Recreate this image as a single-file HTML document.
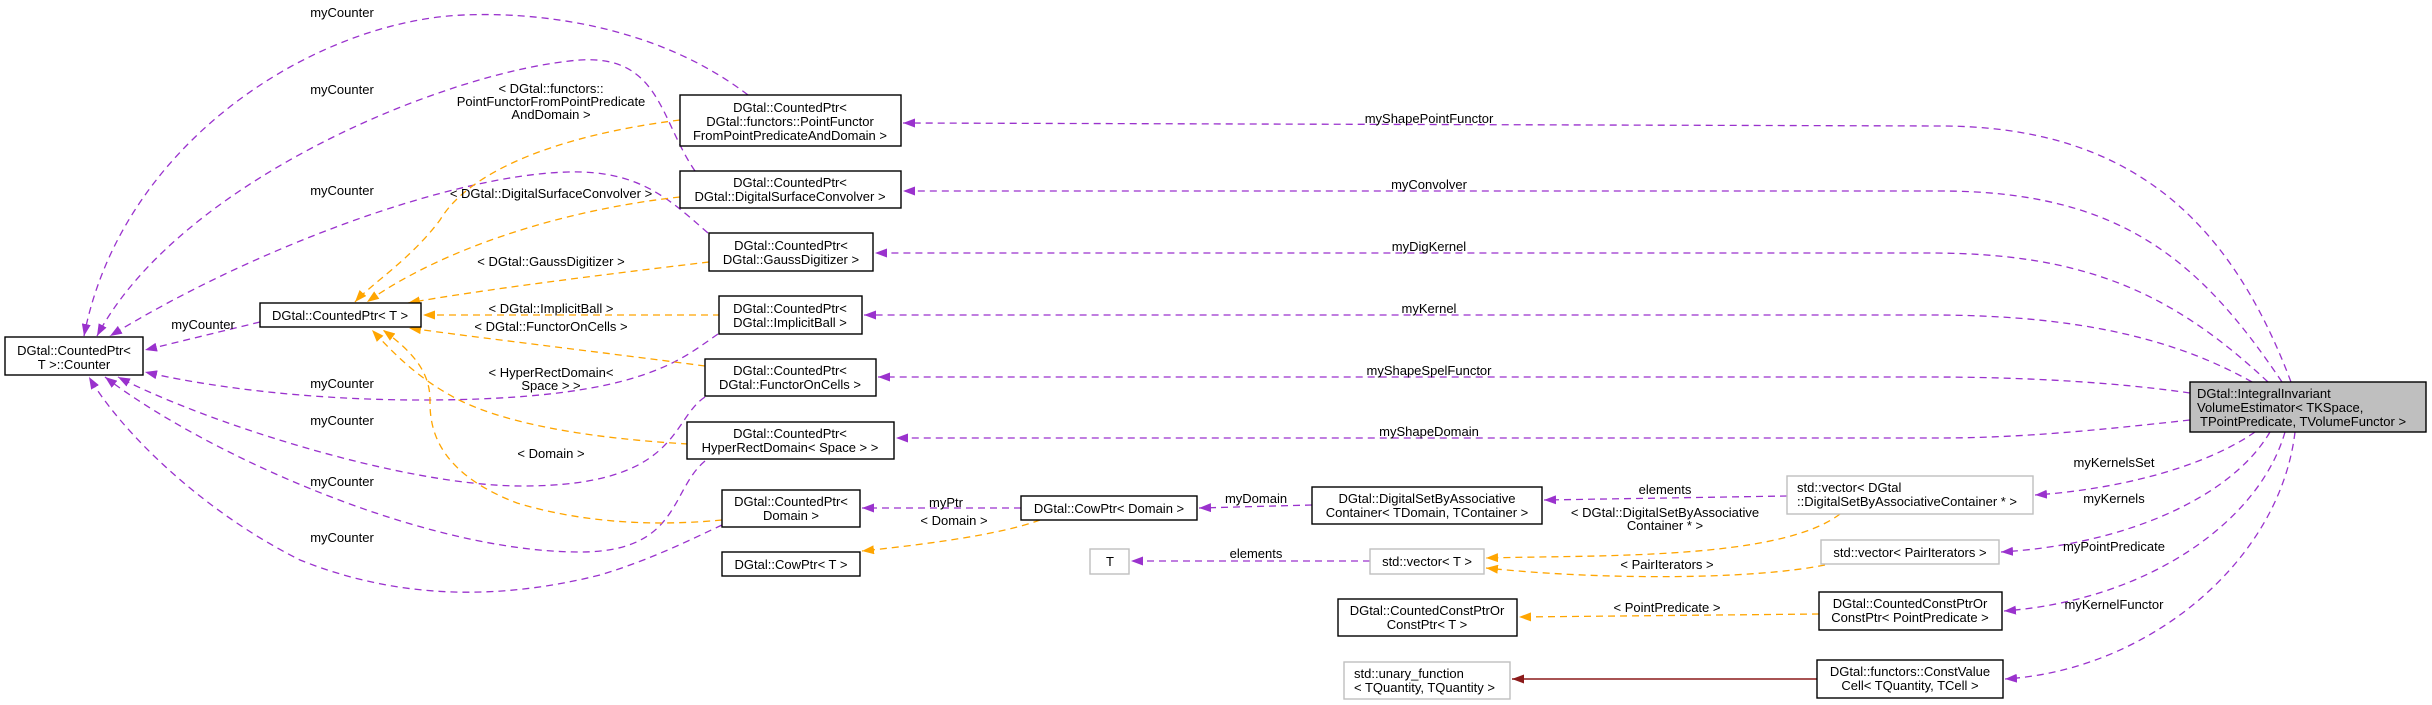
<!DOCTYPE html>
<html><head><meta charset="utf-8"><style>
html,body{margin:0;padding:0;background:#fff;}
svg{display:block;}
text{font-family:"Liberation Sans",Arial,sans-serif;font-size:13px;fill:#000;}
.c{text-anchor:middle;}
.p{fill:none;stroke:#9a32cd;stroke-width:1.3;stroke-dasharray:7,5;}
.o{fill:none;stroke:#ffa500;stroke-width:1.3;stroke-dasharray:7,5;}
.r{fill:none;stroke:#8b1a1a;stroke-width:1.5;}
.n{fill:#fff;stroke:#000;stroke-width:1.4;}
.g{fill:#fff;stroke:#bfbfbf;stroke-width:1.4;}
</style></head><body>
<svg width="2432" height="705" viewBox="0 0 2432 705" xmlns="http://www.w3.org/2000/svg">
<defs>
<marker id="mp" markerUnits="userSpaceOnUse" markerWidth="12" markerHeight="9" refX="12" refY="4.5" orient="auto"><path d="M0,0 L12,4.5 L0,9 z" fill="#9a32cd"/></marker>
<marker id="mo" markerUnits="userSpaceOnUse" markerWidth="12" markerHeight="9" refX="12" refY="4.5" orient="auto"><path d="M0,0 L12,4.5 L0,9 z" fill="#ffa500"/></marker>
<marker id="mr" markerUnits="userSpaceOnUse" markerWidth="12" markerHeight="9" refX="12" refY="4.5" orient="auto"><path d="M0,0 L12,4.5 L0,9 z" fill="#8b1a1a"/></marker>
</defs>

<!-- myCounter edges -->
<path class="p" marker-end="url(#mp)" d="M748,95 C650,20 520,10 448,16 C300,30 120,150 84,336"/>
<path class="p" marker-end="url(#mp)" d="M695,171 C660,120 660,55 580,60 C450,70 180,180 97,336"/>
<path class="p" marker-end="url(#mp)" d="M708,233 C670,200 640,170 568,172 C450,175 250,250 110,336"/>
<path class="p" marker-end="url(#mp)" d="M718,334 C680,360 640,400 422,400 C300,400 200,385 145,372"/>
<path class="p" marker-end="url(#mp)" d="M705,397 C670,420 680,486 522,486 C400,486 200,420 118,377"/>
<path class="p" marker-end="url(#mp)" d="M705,461 C670,490 680,552 580,552 C420,552 200,450 105,377"/>
<path class="p" marker-end="url(#mp)" d="M722,525 C690,540 650,560 600,575 C500,600 400,600 300,560 C200,510 120,430 89,377"/>
<path class="p" marker-end="url(#mp)" d="M260,322 L145,350"/>

<!-- orange edges to CountedPtr<T> -->
<path class="o" marker-end="url(#mo)" d="M680,120 C560,135 470,170 440,220 C410,260 370,285 355,302"/>
<path class="o" marker-end="url(#mo)" d="M680,197 C560,210 440,250 367,302"/>
<path class="o" marker-end="url(#mo)" d="M709,262 C600,275 480,290 408,303"/>
<path class="o" marker-end="url(#mo)" d="M720,315 L423,315"/>
<path class="o" marker-end="url(#mo)" d="M705,366 C600,352 480,338 409,328"/>
<path class="o" marker-end="url(#mo)" d="M688,444 C620,440 520,430 459,400 C420,380 395,355 372,330"/>
<path class="o" marker-end="url(#mo)" d="M722,520 C680,524 600,528 517,503 C430,470 430,420 430,400 C430,370 410,350 383,330"/>

<!-- right side purple edges -->
<path class="p" marker-end="url(#mp)" d="M2291,382 C2230,220 2130,126 1940,126 L903,123"/>
<path class="p" marker-end="url(#mp)" d="M2282,382 C2200,260 2120,191 1940,191 L903,191"/>
<path class="p" marker-end="url(#mp)" d="M2268,382 C2170,290 2080,253 1930,253 L875,253"/>
<path class="p" marker-end="url(#mp)" d="M2252,382 C2160,330 2050,315 1930,315 L864,315"/>
<path class="p" marker-end="url(#mp)" d="M2190,393 C2100,380 2000,377 1930,377 L878,377"/>
<path class="p" marker-end="url(#mp)" d="M2190,420 C2100,430 2020,438 1940,438 L896,438"/>
<path class="p" marker-end="url(#mp)" d="M2255,432 C2200,470 2110,490 2035,495"/>
<path class="p" marker-end="url(#mp)" d="M2270,432 C2230,500 2120,545 2001,552"/>
<path class="p" marker-end="url(#mp)" d="M2285,432 C2260,520 2150,600 2004,611"/>
<path class="p" marker-end="url(#mp)" d="M2295,432 C2280,560 2150,670 2005,679"/>
<path class="p" marker-end="url(#mp)" d="M1787,496 L1544,500"/>
<path class="p" marker-end="url(#mp)" d="M1312,505 L1199,508"/>
<path class="p" marker-end="url(#mp)" d="M1021,508 L862,508"/>
<path class="p" marker-end="url(#mp)" d="M1370,561 L1131,561"/>
<path class="o" marker-end="url(#mo)" d="M1840,514 C1780,560 1600,555 1486,558"/>
<path class="o" marker-end="url(#mo)" d="M1825,565 C1750,580 1600,580 1486,568"/>
<path class="o" marker-end="url(#mo)" d="M1819,614 L1519,617"/>
<path class="o" marker-end="url(#mo)" d="M1040,520 C1000,535 920,545 862,551"/>
<path class="r" marker-end="url(#mr)" d="M1817,679 L1512,679"/>

<!-- nodes -->
<rect class="n" x="5" y="337" width="138" height="38"/>
<text class="c" x="74" y="355">DGtal::CountedPtr&lt;</text><text class="c" x="74" y="369">T &gt;::Counter</text>
<rect class="n" x="260" y="303" width="161" height="24"/>
<text class="c" x="340" y="320">DGtal::CountedPtr&lt; T &gt;</text>
<rect class="n" x="680" y="95" width="221" height="51"/>
<text class="c" x="790" y="112">DGtal::CountedPtr&lt;</text><text class="c" x="790" y="126">DGtal::functors::PointFunctor</text><text class="c" x="790" y="140">FromPointPredicateAndDomain &gt;</text>
<rect class="n" x="680" y="171" width="221" height="37"/>
<text class="c" x="790" y="187">DGtal::CountedPtr&lt;</text><text class="c" x="790" y="201">DGtal::DigitalSurfaceConvolver &gt;</text>
<rect class="n" x="709" y="233" width="164" height="38"/>
<text class="c" x="791" y="250">DGtal::CountedPtr&lt;</text><text class="c" x="791" y="264">DGtal::GaussDigitizer &gt;</text>
<rect class="n" x="719" y="296" width="143" height="38"/>
<text class="c" x="790" y="313">DGtal::CountedPtr&lt;</text><text class="c" x="790" y="327">DGtal::ImplicitBall &gt;</text>
<rect class="n" x="705" y="359" width="171" height="37"/>
<text class="c" x="790" y="375">DGtal::CountedPtr&lt;</text><text class="c" x="790" y="389">DGtal::FunctorOnCells &gt;</text>
<rect class="n" x="687" y="422" width="207" height="37"/>
<text class="c" x="790" y="438">DGtal::CountedPtr&lt;</text><text class="c" x="790" y="452">HyperRectDomain&lt; Space &gt; &gt;</text>
<rect class="n" x="722" y="490" width="138" height="37"/>
<text class="c" x="791" y="506">DGtal::CountedPtr&lt;</text><text class="c" x="791" y="520">Domain &gt;</text>
<rect class="n" x="722" y="552" width="138" height="24"/>
<text class="c" x="791" y="569">DGtal::CowPtr&lt; T &gt;</text>
<rect x="2190" y="382" width="236" height="50" fill="#bfbfbf" stroke="#000" stroke-width="1.4"/>
<text x="2197" y="398">DGtal::IntegralInvariant</text><text x="2197" y="412">VolumeEstimator&lt; TKSpace,</text><text x="2200" y="426">TPointPredicate, TVolumeFunctor &gt;</text>
<rect class="n" x="1021" y="496" width="176" height="24"/>
<text class="c" x="1109" y="513">DGtal::CowPtr&lt; Domain &gt;</text>
<rect class="n" x="1312" y="487" width="230" height="37"/>
<text class="c" x="1427" y="503">DGtal::DigitalSetByAssociative</text><text class="c" x="1427" y="517">Container&lt; TDomain, TContainer &gt;</text>
<rect class="g" x="1787" y="476" width="246" height="38"/>
<text x="1797" y="492">std::vector&lt; DGtal</text><text x="1797" y="506">::DigitalSetByAssociativeContainer * &gt;</text>
<rect class="g" x="1090" y="549" width="39" height="25"/>
<text class="c" x="1110" y="566">T</text>
<rect class="g" x="1370" y="549" width="114" height="25"/>
<text class="c" x="1427" y="566">std::vector&lt; T &gt;</text>
<rect class="g" x="1821" y="540" width="178" height="24"/>
<text class="c" x="1910" y="557">std::vector&lt; PairIterators &gt;</text>
<rect class="n" x="1338" y="599" width="179" height="37"/>
<text class="c" x="1427" y="615">DGtal::CountedConstPtrOr</text><text class="c" x="1427" y="629">ConstPtr&lt; T &gt;</text>
<rect class="n" x="1819" y="592" width="183" height="38"/>
<text class="c" x="1910" y="608">DGtal::CountedConstPtrOr</text><text class="c" x="1910" y="622">ConstPtr&lt; PointPredicate &gt;</text>
<rect class="g" x="1344" y="662" width="166" height="37"/>
<text x="1354" y="678">std::unary_function</text><text x="1354" y="692">&lt; TQuantity, TQuantity &gt;</text>
<rect class="n" x="1817" y="660" width="186" height="38"/>
<text class="c" x="1910" y="676">DGtal::functors::ConstValue</text><text class="c" x="1910" y="690">Cell&lt; TQuantity, TCell &gt;</text>

<!-- edge labels -->
<text class="c" x="342" y="17">myCounter</text>
<text class="c" x="342" y="94">myCounter</text>
<text class="c" x="342" y="195">myCounter</text>
<text class="c" x="203" y="329">myCounter</text>
<text class="c" x="342" y="388">myCounter</text>
<text class="c" x="342" y="425">myCounter</text>
<text class="c" x="342" y="486">myCounter</text>
<text class="c" x="342" y="542">myCounter</text>
<text class="c" x="551" y="93">&lt; DGtal::functors::</text>
<text class="c" x="551" y="106">PointFunctorFromPointPredicate</text>
<text class="c" x="551" y="119">AndDomain &gt;</text>
<text class="c" x="551" y="198">&lt; DGtal::DigitalSurfaceConvolver &gt;</text>
<text class="c" x="551" y="266">&lt; DGtal::GaussDigitizer &gt;</text>
<text class="c" x="551" y="313">&lt; DGtal::ImplicitBall &gt;</text>
<text class="c" x="551" y="331">&lt; DGtal::FunctorOnCells &gt;</text>
<text class="c" x="551" y="377">&lt; HyperRectDomain&lt;</text>
<text class="c" x="551" y="390">Space &gt; &gt;</text>
<text class="c" x="551" y="458">&lt; Domain &gt;</text>
<text class="c" x="1429" y="123">myShapePointFunctor</text>
<text class="c" x="1429" y="189">myConvolver</text>
<text class="c" x="1429" y="251">myDigKernel</text>
<text class="c" x="1429" y="313">myKernel</text>
<text class="c" x="1429" y="375">myShapeSpelFunctor</text>
<text class="c" x="1429" y="436">myShapeDomain</text>
<text class="c" x="2114" y="467">myKernelsSet</text>
<text class="c" x="2114" y="503">myKernels</text>
<text class="c" x="2114" y="551">myPointPredicate</text>
<text class="c" x="2114" y="609">myKernelFunctor</text>
<text class="c" x="946" y="507">myPtr</text>
<text class="c" x="954" y="525">&lt; Domain &gt;</text>
<text class="c" x="1256" y="503">myDomain</text>
<text class="c" x="1665" y="494">elements</text>
<text class="c" x="1665" y="517">&lt; DGtal::DigitalSetByAssociative</text>
<text class="c" x="1665" y="530">Container * &gt;</text>
<text class="c" x="1256" y="558">elements</text>
<text class="c" x="1667" y="569">&lt; PairIterators &gt;</text>
<text class="c" x="1667" y="612">&lt; PointPredicate &gt;</text>
</svg>
</body></html>
